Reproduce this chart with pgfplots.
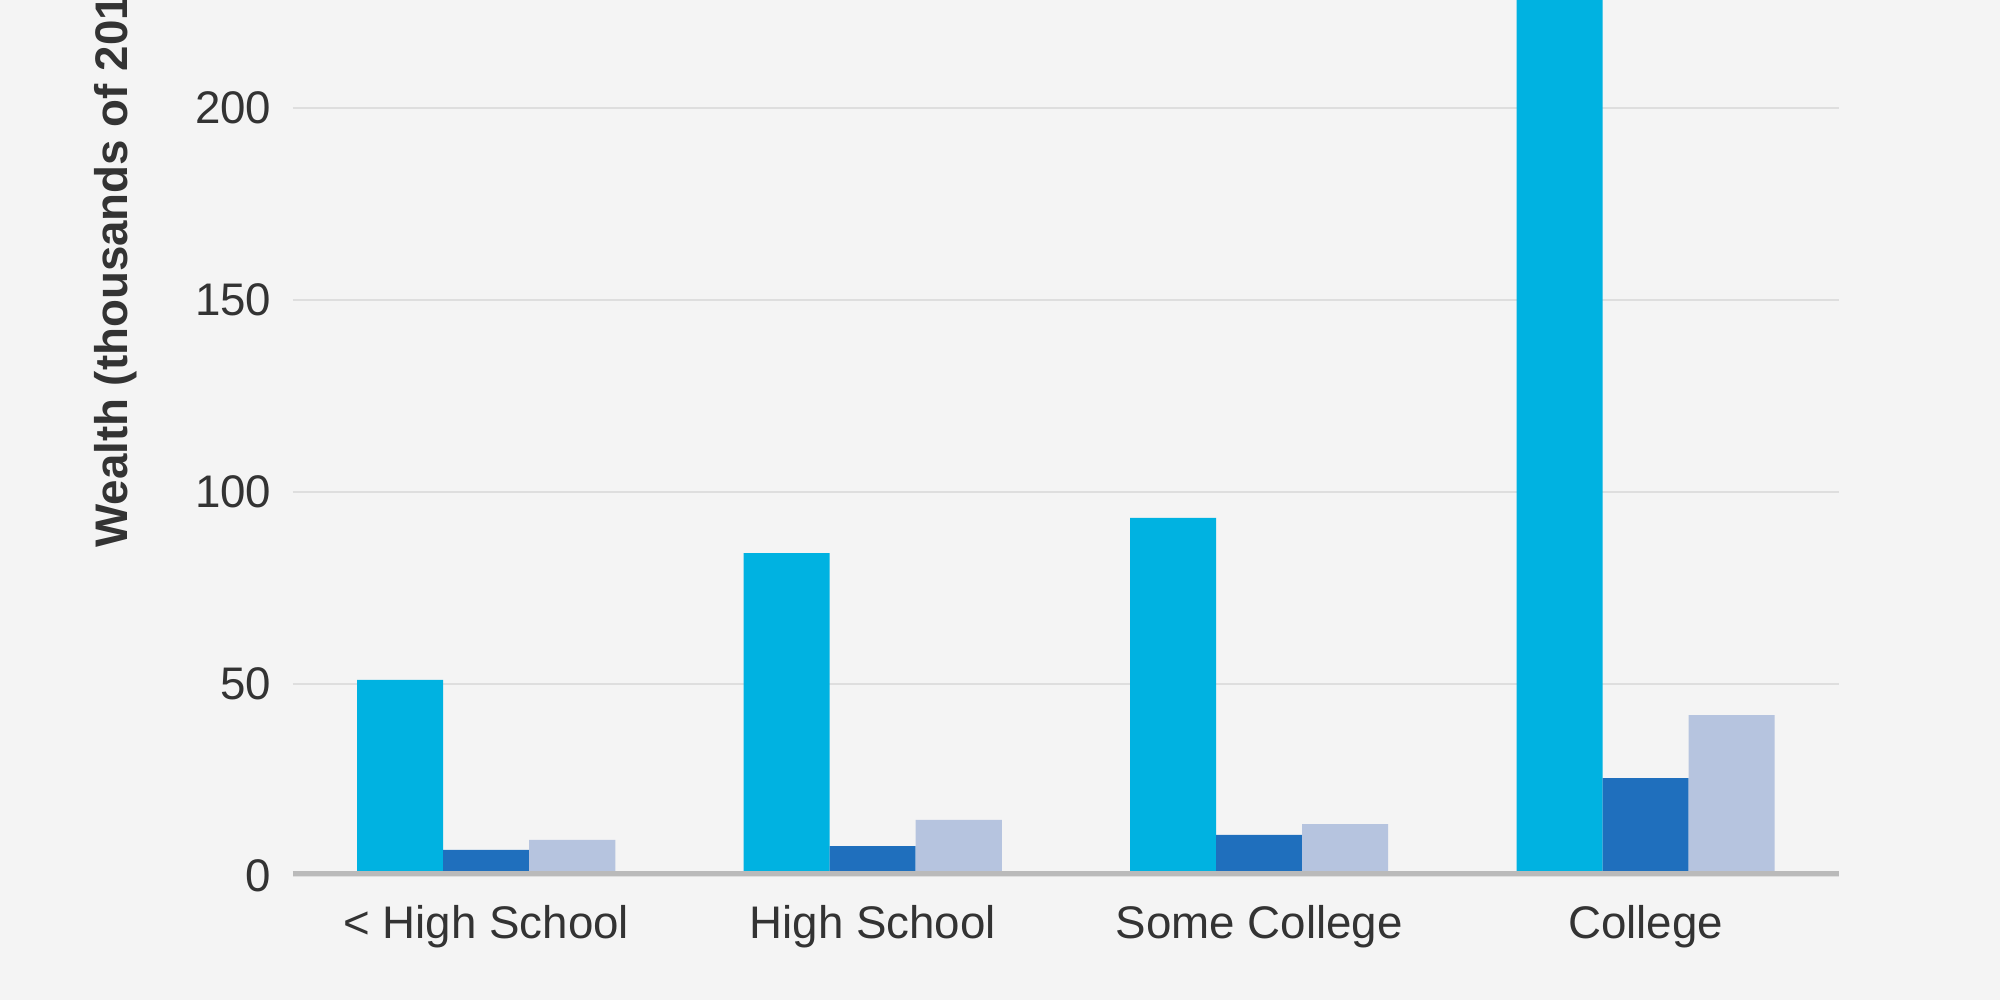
\documentclass[border=0pt]{standalone}
\usepackage{pgfplots}
\pgfplotsset{compat=1.18}
\usepackage{fontspec}
\setmainfont{Liberation Sans}
\definecolor{bg}{HTML}{F4F4F4}
\definecolor{cyanbar}{HTML}{00B2E1}
\definecolor{darkbar}{HTML}{1F6FBD}
\definecolor{lightbar}{HTML}{B6C4DF}
\definecolor{gridc}{HTML}{DEDEDE}
\definecolor{basec}{HTML}{BABABA}
\definecolor{txt}{HTML}{333333}
\begin{document}
\begin{tikzpicture}
\path[use as bounding box, fill=bg] (0,0) rectangle (20cm,10cm);
\clip (0,0) rectangle (20cm,10cm);
\begin{axis}[
  at={(2.93cm,1.24cm)}, anchor=south west,
  scale only axis, width=15.46cm, height=8.76cm,
  xmin=-0.5, xmax=3.5, ymin=0, ymax=228.2,
  ybar=0pt, bar width=0.86cm,
  axis line style={draw=none},
  tick style={draw=none},
  ymajorgrids, grid style={gridc, line width=0.7pt},
  ytick={0,50,100,150,200},
  xtick={0,1,2,3},
  xticklabels={{< High School},{High School},{Some College},{College}},
  /pgf/number format/assume math mode=true,
  ticklabel style={font=\fontsize{13}{15}\selectfont, text=txt},
  yticklabel style={inner sep=0pt, xshift=-2.1mm},
  xticklabel style={inner sep=0pt, yshift=-1.4mm},
  ylabel={Wealth (thousands of 2013 dollars)},
  ylabel style={at={(axis description cs:-0.1145,0.374)}, anchor=west, inner sep=0pt,
    font=\fontsize{13}{15}\selectfont\bfseries, text=txt},
]
\addplot[fill=cyanbar, draw=none] coordinates {(0,51.1) (1,84.1) (2,93.3) (3,290)};
\addplot[fill=darkbar, draw=none] coordinates {(0,6.8) (1,7.8) (2,10.7) (3,25.5)};
\addplot[fill=lightbar, draw=none] coordinates {(0,9.4) (1,14.6) (2,13.5) (3,41.9)};
\draw[basec, line width=2.8pt] (rel axis cs:0,0) -- (rel axis cs:1,0);
\end{axis}
\end{tikzpicture}
\end{document}
